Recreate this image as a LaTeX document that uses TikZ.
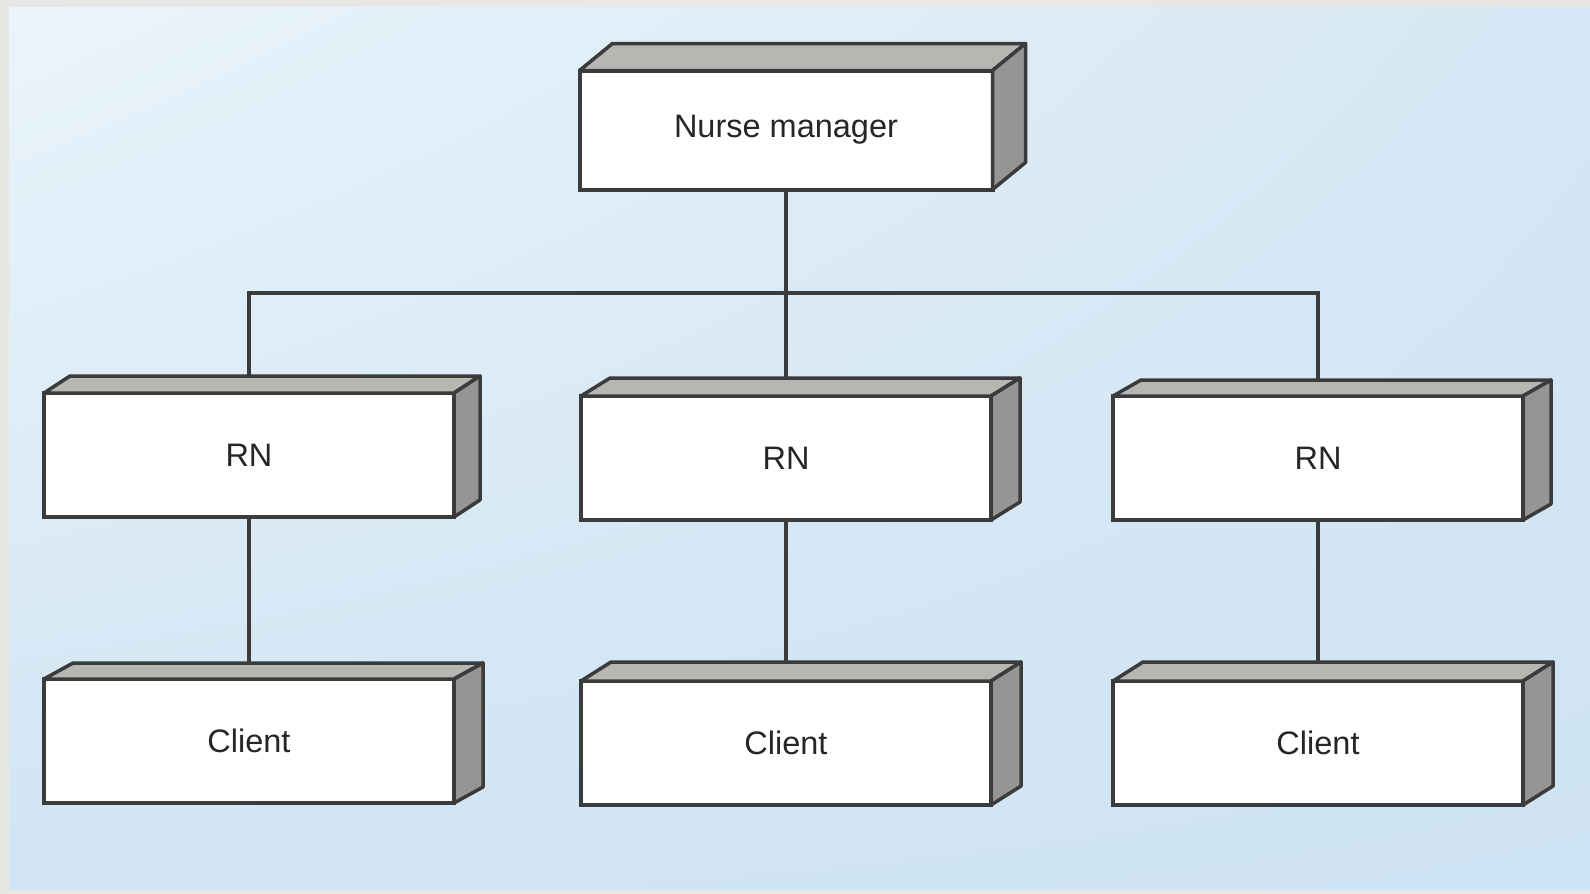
\documentclass[tikz,border=0pt]{standalone}
\usepackage{fontspec}
\setmainfont{Liberation Sans}
\usetikzlibrary{calc,backgrounds,shadings}

\definecolor{edge}{HTML}{3A3B3A}
\definecolor{topface}{HTML}{B6B7B3}
\definecolor{sideface}{HTML}{959693}
\definecolor{paper}{HTML}{E9E7E3}
\definecolor{panel}{HTML}{CEE3F3}
\definecolor{panellight}{HTML}{EAF4FB}

\tikzset{
 box/.style={draw=edge,fill=white,line width=4pt,minimum width=410pt,minimum height=124pt,
   inner sep=0pt,outer sep=0pt,font=\fontsize{32.5}{38}\selectfont,text=black!85},
 face/.style={draw=edge,line width=3.5pt,line join=round},
 link/.style={draw=edge,line width=4pt},
}

\begin{document}
\begin{tikzpicture}[x=1pt,y=-1pt]
 \useasboundingbox (0,0) rectangle (1590,894);
 \begin{scope}[on background layer]
  \fill[paper] (0,0) rectangle (1590,894); %台紙
  \shade[upper left=panellight,upper right=panel!85!white,lower left=panel!95!white,lower right=panel]
    (9,7) rectangle (1590,889); %背景
 \end{scope}

 \node[box,minimum width=413pt,minimum height=119pt] (nm) at (786,130) {Nurse manager};
 \node[box] (rn1) at (249,455) {RN};
 \node[box] (rn2) at (786,458) {RN};
 \node[box] (rn3) at (1318,458) {RN};
 \node[box] (c1) at (249,741) {Client};
 \node[box] (c2) at (786,743) {Client};
 \node[box] (c3) at (1318,743) {Client};
 \coordinate (bar) at (786,293); %分岐点

 %上面と側面
 \foreach \n/\dx/\dy in {nm/33/27,rn1/26/17,rn2/29/18,rn3/28/16,c1/29/16,c2/30/19,c3/30/19}{
   \filldraw[face,fill=topface] (\n.north west) -- ++(\dx,-\dy)
     -- ($(\n.north east)+(\dx,-\dy)$) -- (\n.north east) -- cycle;
   \filldraw[face,fill=sideface] (\n.north east) -- ++(\dx,-\dy)
     -- ($(\n.south east)+(\dx,-\dy)$) -- (\n.south east) -- cycle;
 }

 \begin{scope}[on background layer]
  \draw[link] (nm) -- (bar);
  \draw[link] (rn1) |- (bar) -| (rn3);
  \draw[link] (rn2) -- (bar);
  \foreach \i in {1,2,3}
    \draw[link] (rn\i) -- (c\i);
 \end{scope}
\end{tikzpicture}
\end{document}
